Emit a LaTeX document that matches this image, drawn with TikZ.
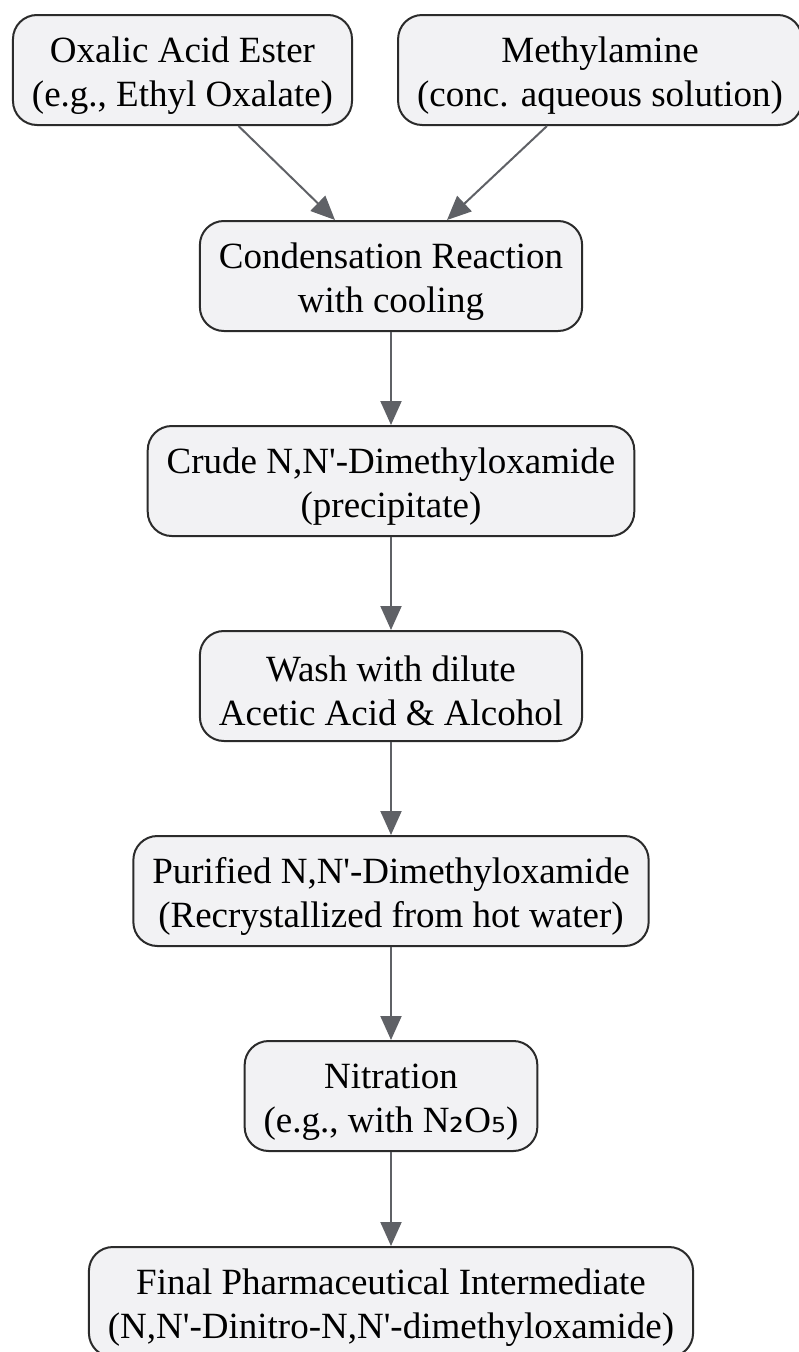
\documentclass[tikz,border=0pt]{standalone}
\usepackage{fontspec}
\setmainfont{Liberation Serif}
\newfontfamily\subfont{DejaVu Sans}
\usetikzlibrary{arrows.meta}

\definecolor{boxfill}{HTML}{F2F2F4}
\definecolor{boxline}{HTML}{2B2B2B}
\definecolor{arrowgray}{HTML}{5F6166}
\newcommand{\pq}{\textquotesingle}
\newcommand{\toprule}{\rule{0pt}{36pt}}

\tikzset{
  stepnode/.style={draw=boxline, fill=boxfill, line width=2pt, rounded corners=24pt,
    align=center, inner xsep=19pt, inner ysep=0pt, minimum height=110pt,
    font=\fontsize{37}{44}\selectfont},
  flow/.style={draw=arrowgray, line width=2pt, -{Triangle[length=24pt,width=21pt]}}
}

\begin{document}
\begin{tikzpicture}[x=1pt, y=-1pt]
	\useasboundingbox (0,0) rectangle (799,1352);

	\node[stepnode] (ester) at (182.5,70) {\toprule Oxalic Acid Ester\\(e.g., Ethyl Oxalate)};
	\node[stepnode] (amine) at (600,70) {\toprule Methylamine\\(conc. aqueous solution)};
	\node[stepnode] (cond) at (391,276) {\toprule Condensation Reaction\\with cooling};
	\node[stepnode] (crude) at (391,481) {\toprule Crude N,N\pq-Dimethyloxamide\\(precipitate)};
	\node[stepnode] (wash) at (391,686) {\toprule Wash with dilute\\Acetic Acid \& Alcohol};
	\node[stepnode] (pure) at (391,891) {\toprule Purified N,N\pq-Dimethyloxamide\\(Recrystallized from hot water)};
	\node[stepnode] (nitr) at (391,1096) {\toprule Nitration\\(e.g., with N{\subfont ₂}O{\subfont ₅})};
	\node[stepnode] (final) at (391,1302) {\toprule Final Pharmaceutical Intermediate\\(N,N\pq-Dinitro-N,N\pq-dimethyloxamide)};

	\draw[flow] ([xshift=56pt]ester.south) -- ([xshift=-56pt]cond.north);
	\draw[flow] ([xshift=-53pt]amine.south) -- ([xshift=56pt]cond.north);
	\draw[flow] (cond) -- (crude);
	\draw[flow] (crude) -- (wash);
	\draw[flow] (wash) -- (pure);
	\draw[flow] (pure) -- (nitr);
	\draw[flow] (nitr) -- (final);
\end{tikzpicture}
\end{document}
